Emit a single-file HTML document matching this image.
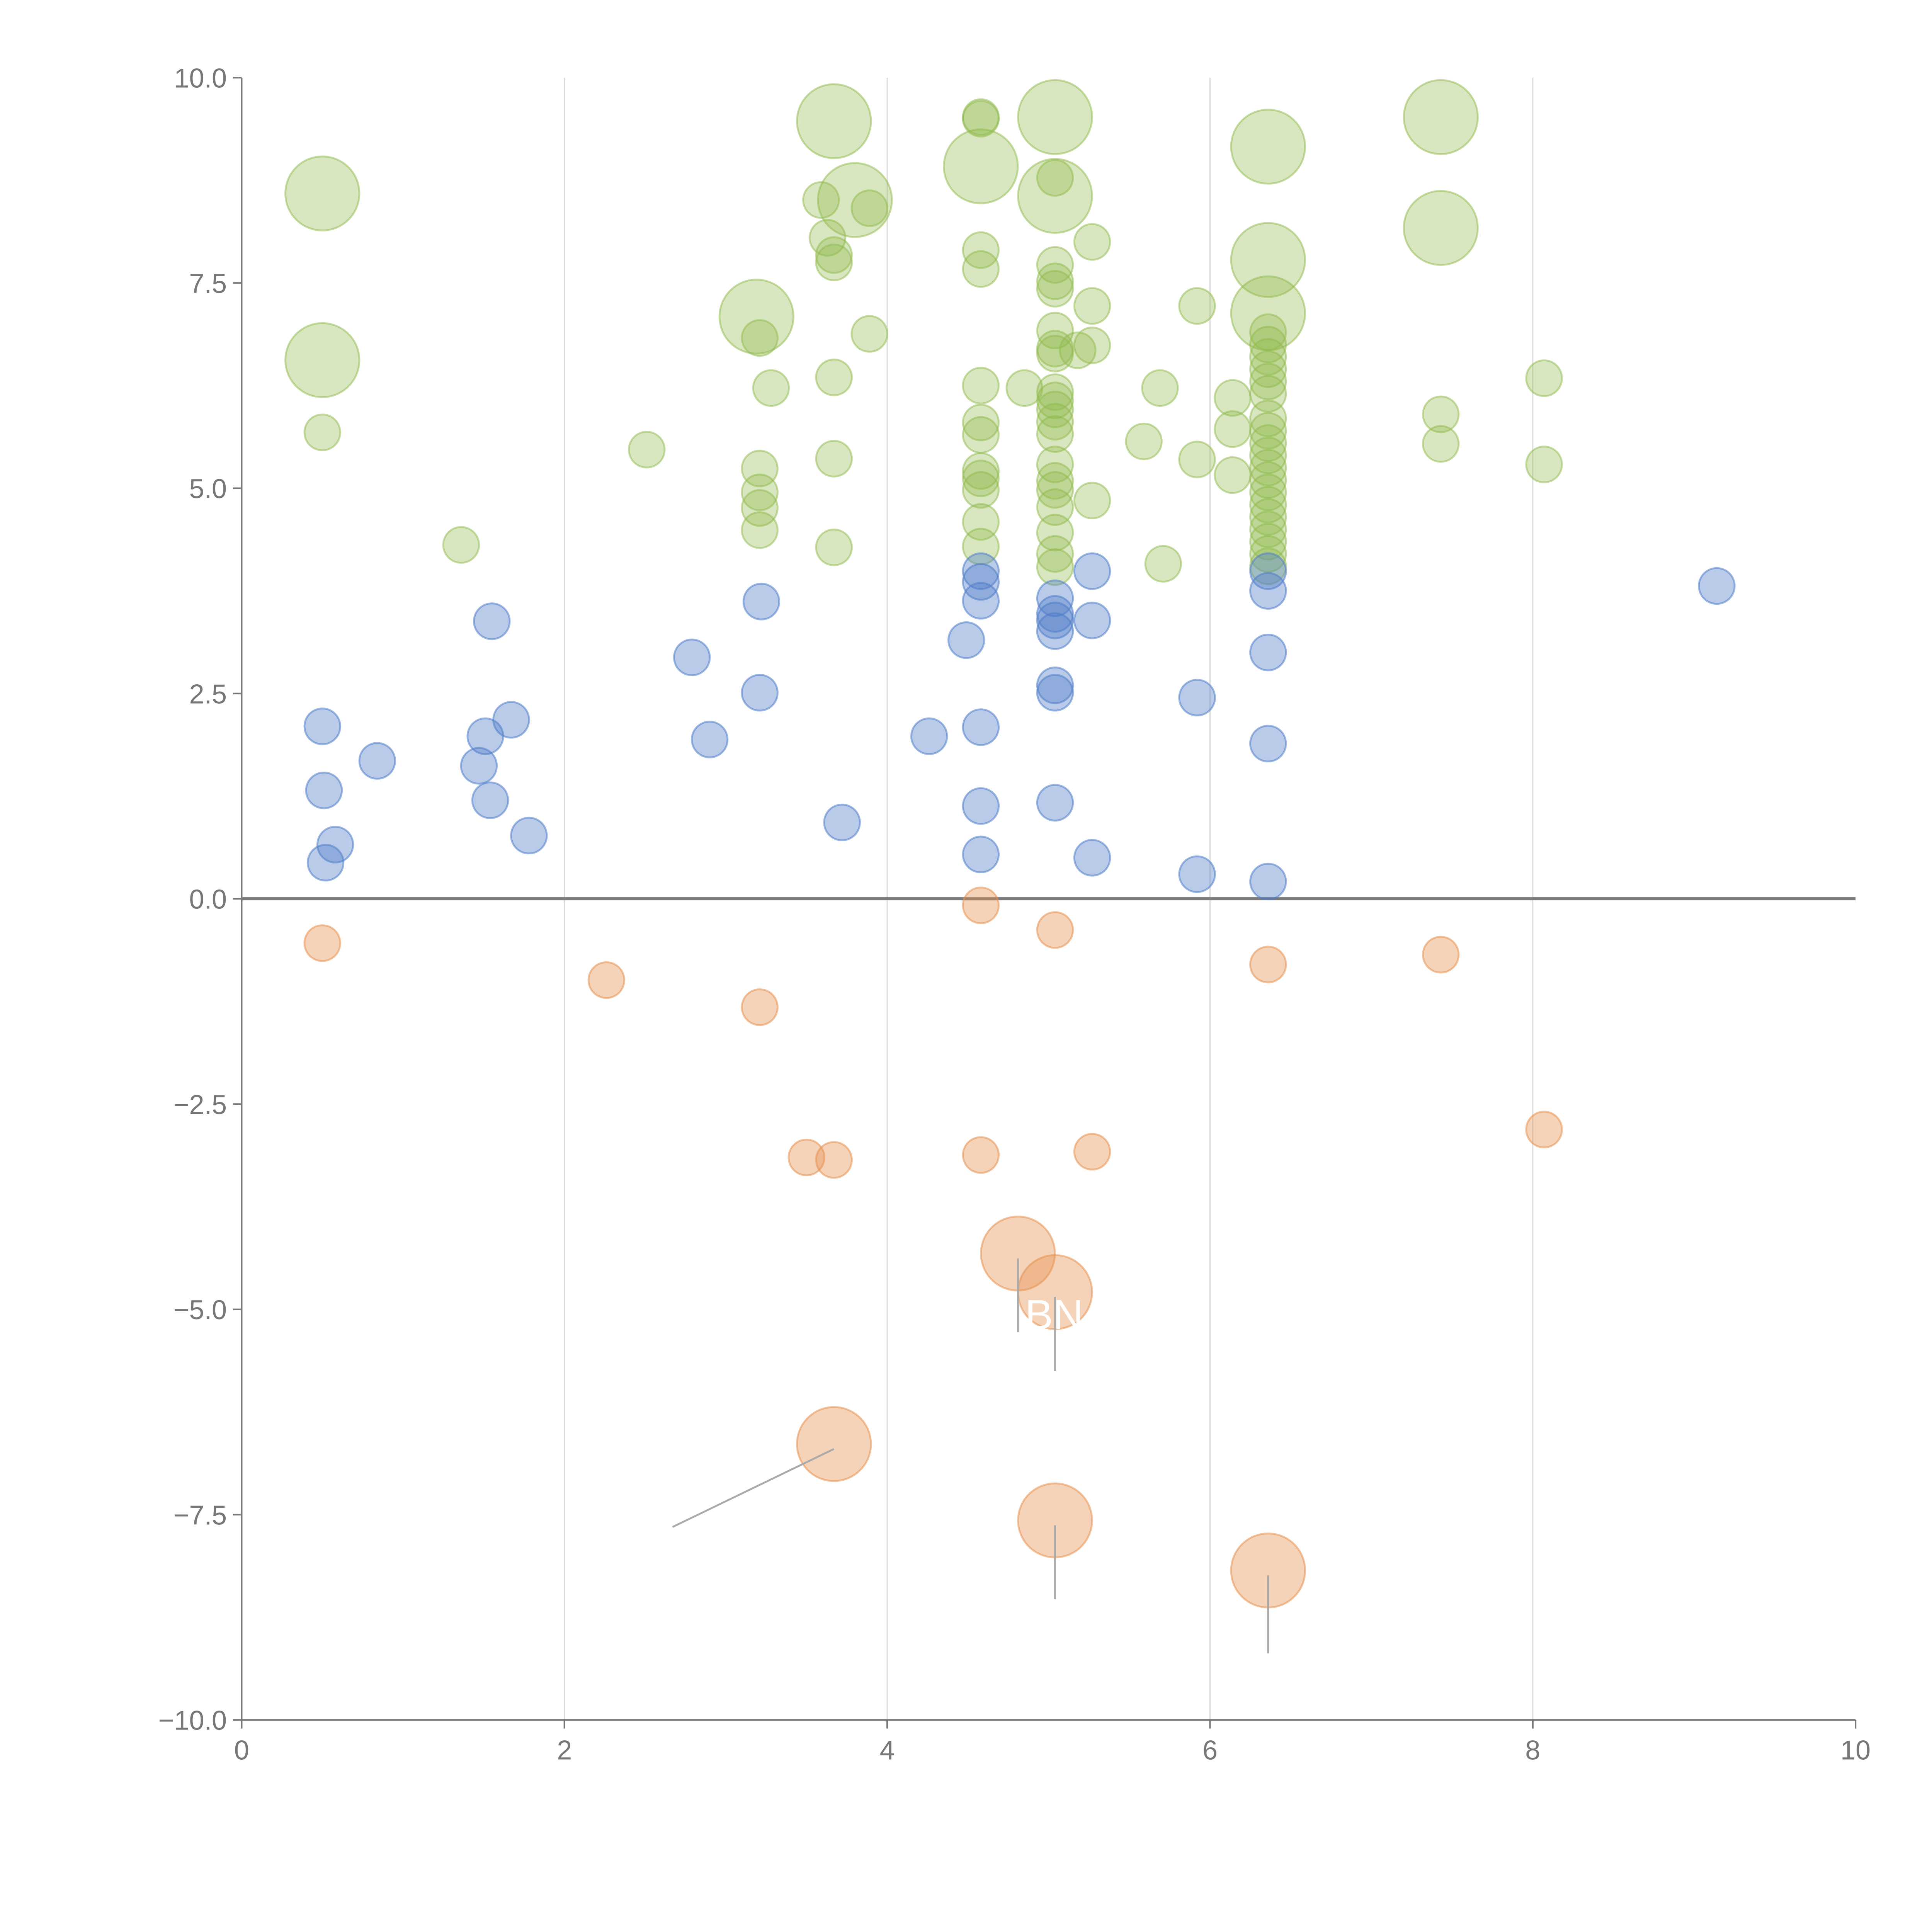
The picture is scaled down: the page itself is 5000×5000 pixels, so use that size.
<!DOCTYPE html>
<html><head><meta charset="utf-8"><style>
html,body{margin:0;padding:0;background:#fff;width:5000px;height:5000px;overflow:hidden}
svg{display:block}
text{font-family:"Liberation Sans",Arial,sans-serif}
</style></head><body>
<svg id="chart" width="5000" height="5000" viewBox="0 0 1567 1567" xmlns="http://www.w3.org/2000/svg">
<g id="grid"></g>
<g id="axes"></g>
<g id="marks"></g>
<g id="labels"></g>
</svg>
<script>
const xTicks=[0,2,4,6,8,10];
const yTicks=[-10,-7.5,-5,-2.5,0,2.5,5,7.5,10];
const yTickLabels=["\u221210.0","\u22127.5","\u22125.0","\u22122.5","0.0","2.5","5.0","7.5","10.0"];
const blueX=[0.5,0.51,0.58,0.52,0.84,1.55,1.51,1.67,1.47,1.54,1.78,2.79,2.9,3.22,3.21,3.72,4.26,4.49,4.58,4.58,4.58,4.58,4.58,4.58,5.04,5.04,5.04,5.04,5.04,5.04,5.04,5.27,5.27,5.27,5.92,5.92,6.36,6.36,6.36,6.36,6.36,9.14];
const blueY=[2.1,1.32,0.66,0.44,1.68,3.38,1.98,2.18,1.62,1.2,0.77,2.94,1.94,3.62,2.51,0.93,1.98,3.15,3.99,3.86,3.63,2.09,1.13,0.54,3.66,3.39,3.26,3.47,2.6,2.51,1.17,3.99,3.39,0.5,2.45,0.3,3.99,3.75,3.0,1.89,0.21,3.81];
const orangeX=[0.5,2.26,3.21,3.5,3.67,4.58,4.58,5.04,5.27,6.36,7.43,8.07];
const orangeY=[-0.54,-0.99,-1.32,-3.15,-3.18,-0.08,-3.12,-0.38,-3.08,-0.8,-0.68,-2.81];
const orangeBigX=[4.81,5.04,3.67,5.04,6.36];
const orangeBigY=[-4.32,-4.79,-6.64,-7.57,-8.18];
const greenX=[0.5,1.36,2.51,3.21,3.21,3.21,3.21,3.21,3.28,3.59,3.63,3.67,3.67,3.67,3.67,3.67,3.89,3.89,4.58,4.58,4.58,4.58,4.58,4.58,4.58,4.58,4.58,4.58,4.58,4.58,4.85,5.04,5.04,5.04,5.04,5.04,5.04,5.04,5.04,5.04,5.04,5.04,5.04,5.04,5.04,5.04,5.04,5.04,5.04,5.04,5.18,5.27,5.27,5.27,5.27,5.59,5.69,5.71,5.92,5.92,6.14,6.14,6.14,6.36,6.36,6.36,6.36,6.36,6.36,6.36,6.36,6.36,6.36,6.36,6.36,6.36,6.36,6.36,6.36,6.36,6.36,6.36,7.43,7.43,8.07,8.07];
const greenY=[5.68,4.31,5.47,5.24,4.95,4.76,4.49,6.83,6.22,8.51,8.05,7.84,7.75,6.35,5.36,4.28,8.41,6.88,9.52,9.5,7.9,7.67,6.25,5.8,5.65,5.21,5.12,4.98,4.59,4.29,6.22,8.78,7.72,7.52,7.43,6.92,6.7,6.64,6.17,6.07,5.96,5.81,5.66,5.29,5.09,4.98,4.77,4.46,4.2,4.04,6.68,8.0,7.22,6.74,4.85,5.57,6.22,4.08,7.22,5.35,6.1,5.72,5.16,6.9,6.75,6.6,6.45,6.3,6.15,5.85,5.7,5.55,5.4,5.25,5.1,4.95,4.8,4.65,4.5,4.35,4.2,4.05,5.9,5.54,6.34,5.29];
const greenBigX=[0.5,0.5,3.67,3.8,3.19,4.58,5.04,5.04,6.36,6.36,6.36,7.43,7.43];
const greenBigY=[8.59,6.56,9.47,8.51,7.09,8.92,9.52,8.56,9.16,7.78,7.13,9.52,8.17];

const X0=196,X1=1505,Y0=1395,Y1=63;
const sx=v=>X0+(v-0)/10*(X1-X0);
const sy=v=>Y0-(v+10)/20*(Y0-Y1);
const NS="http://www.w3.org/2000/svg";
function mk(tag,attrs,parent){const e=document.createElementNS(NS,tag);for(const k in attrs)e.setAttribute(k,attrs[k]);parent.appendChild(e);return e;}
const grid=document.getElementById('grid'),axes=document.getElementById('axes'),marks=document.getElementById('marks'),labels=document.getElementById('labels');

xTicks.forEach(t=>{
  if(t>0&&t<10){const g=mk('line',{x1:sx(t),x2:sx(t),y1:Y1,y2:Y0,stroke:'#dcdcdc','stroke-width':1},grid);
  
  }
  const tk=mk('line',{x1:sx(t),x2:sx(t),y1:Y0,y2:Y0+7,stroke:'#777','stroke-width':1.3},axes);
  
  
  const tl=mk('text',{x:sx(t),y:Y0+32,'text-anchor':'middle','font-size':22,fill:'#777'},axes);
  tl.textContent=t;
  
  
});
yTicks.forEach((t,i)=>{
  const tk=mk('line',{x1:X0-7,x2:X0,y1:sy(t),y2:sy(t),stroke:'#777','stroke-width':1.3},axes);
  
  
  const tl=mk('text',{x:X0-12,y:sy(t)+8,'text-anchor':'end','font-size':22,fill:'#777'},axes);
  tl.textContent=yTickLabels[i];
  
  
});
const ya=mk('line',{x1:X0,x2:X0,y1:Y1,y2:Y0,stroke:'#777','stroke-width':1.3},axes);


const xa=mk('line',{x1:X0,x2:X1,y1:Y0,y2:Y0,stroke:'#777','stroke-width':1.3},axes);


const zl=mk('line',{x1:X0,x2:X1,y1:sy(0),y2:sy(0),stroke:'#7a7a7a','stroke-width':2.5},axes);



function bubbles(xs,ys,r,fill,stroke,name){
  xs.forEach((x,i)=>{
    const c=mk('circle',{cx:sx(x),cy:sy(ys[i]),r:r,fill:fill,stroke:stroke,'stroke-width':1.5},marks);
    
    
  });
}
bubbles(greenX,greenY,14.5,'rgba(143,185,75,0.35)','rgba(143,185,75,0.5)','bubble-green');
bubbles(greenBigX,greenBigY,30,'rgba(143,185,75,0.35)','rgba(143,185,75,0.5)','bubble-green-large');
bubbles(blueX,blueY,14.5,'rgba(80,125,200,0.4)','rgba(80,125,200,0.55)','bubble-blue');
bubbles(orangeX,orangeY,14.5,'rgba(230,145,80,0.4)','rgba(230,145,80,0.55)','bubble-orange');
bubbles(orangeBigX,orangeBigY,30,'rgba(230,145,80,0.4)','rgba(230,145,80,0.55)','bubble-orange-large');

const leadDX=[0,0,-1.0,0,0], leadDY=[-0.9,-0.9,-0.95,-0.9,-0.95];
orangeBigX.forEach((x,i)=>{
  const l=mk('line',{x1:sx(x),y1:sy(orangeBigY[i])+4,x2:sx(x+leadDX[i]),y2:sy(orangeBigY[i]+leadDY[i])+4,stroke:'#aaa','stroke-width':1.5},labels);
  
  
});
const bn=mk('text',{x:855,y:1078,'text-anchor':'middle','font-size':34,fill:'#fff'},labels);
bn.textContent='BN';


</script>
</body></html>
